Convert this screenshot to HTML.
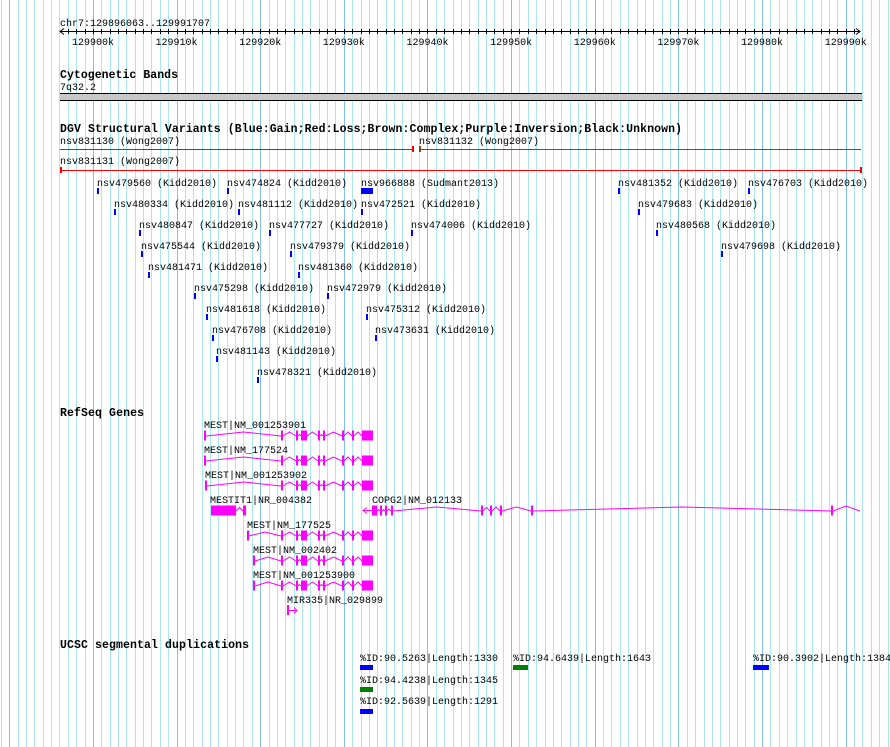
<!DOCTYPE html>
<html><head><meta charset="utf-8"><style>
html,body{margin:0;padding:0;background:#fff;}
svg{display:block;}
text{font-family:"Liberation Mono","DejaVu Sans Mono",monospace;font-size:10px;fill:#000;}
.b{font-weight:bold;font-size:11.5px;}
</style></head><body>
<svg id="s" width="890" height="747" xmlns="http://www.w3.org/2000/svg">
<g id="grid"></g>
<g id="draw"></g>
<!-- ruler -->
<text x="60" y="26">chr7:129896063..129991707</text>
<g text-anchor="middle">
<text x="93" y="45">129900k</text><text x="176.5" y="45">129910k</text><text x="260.2" y="45">129920k</text><text x="343.8" y="45">129930k</text><text x="427.5" y="45">129940k</text><text x="511.1" y="45">129950k</text><text x="594.8" y="45">129960k</text><text x="678.4" y="45">129970k</text><text x="762" y="45">129980k</text><text x="845.7" y="45">129990k</text>
</g>
<text class="b" x="60" y="78" textLength="118">Cytogenetic Bands</text>
<text x="60" y="90">7q32.2</text>
<rect x="60" y="93" width="802" height="1" fill="#000"/>
<rect x="60" y="94" width="802" height="6" fill="#c8c8c8"/>
<rect x="60" y="100" width="802" height="1" fill="#000"/>
<text class="b" x="60" y="132" textLength="622">DGV Structural Variants (Blue:Gain;Red:Loss;Brown:Complex;Purple:Inversion;Black:Unknown)</text>
<text x="60" y="144">nsv831130 (Wong2007)</text>
<text x="419" y="144">nsv831132 (Wong2007)</text>
<text x="60" y="164">nsv831131 (Wong2007)</text>
<rect x="60" y="149" width="354" height="1" fill="#f00"/><rect x="412" y="146" width="2" height="6" fill="#f00"/>
<rect x="419" y="149" width="442" height="1" fill="#8b4513"/><rect x="419" y="146" width="2" height="6" fill="#8b4513"/>
<rect x="60" y="170" width="802" height="1" fill="#f00"/><rect x="60" y="167" width="2" height="6" fill="#f00"/><rect x="860" y="167" width="2" height="6" fill="#f00"/>
<g id="kidd">
<text x="97" y="186">nsv479560 (Kidd2010)</text><text x="227" y="186">nsv474824 (Kidd2010)</text><text x="361" y="186">nsv966888 (Sudmant2013)</text><text x="618" y="186">nsv481352 (Kidd2010)</text><text x="748" y="186">nsv476703 (Kidd2010)</text>
<text x="114" y="207">nsv480334 (Kidd2010)</text><text x="238" y="207">nsv481112 (Kidd2010)</text><text x="361" y="207">nsv472521 (Kidd2010)</text><text x="638" y="207">nsv479683 (Kidd2010)</text>
<text x="139" y="228">nsv480847 (Kidd2010)</text><text x="269" y="228">nsv477727 (Kidd2010)</text><text x="411" y="228">nsv474006 (Kidd2010)</text><text x="656" y="228">nsv480568 (Kidd2010)</text>
<text x="141" y="249">nsv475544 (Kidd2010)</text><text x="290" y="249">nsv479379 (Kidd2010)</text><text x="721" y="249">nsv479698 (Kidd2010)</text>
<text x="148" y="270">nsv481471 (Kidd2010)</text><text x="298" y="270">nsv481360 (Kidd2010)</text>
<text x="194" y="291">nsv475298 (Kidd2010)</text><text x="327" y="291">nsv472979 (Kidd2010)</text>
<text x="206" y="312">nsv481618 (Kidd2010)</text><text x="366" y="312">nsv475312 (Kidd2010)</text>
<text x="212" y="333">nsv476708 (Kidd2010)</text><text x="375" y="333">nsv473631 (Kidd2010)</text>
<text x="216" y="354">nsv481143 (Kidd2010)</text>
<text x="257" y="375">nsv478321 (Kidd2010)</text>
</g>
<text class="b" x="60" y="416" textLength="84">RefSeq Genes</text>
<text x="204" y="428">MEST|NM_001253901</text>
<text x="204" y="453">MEST|NM_177524</text>
<text x="205" y="478">MEST|NM_001253902</text>
<text x="210" y="503">MESTIT1|NR_004382</text>
<text x="372" y="503">COPG2|NM_012133</text>
<text x="247" y="528">MEST|NM_177525</text>
<text x="253" y="553">MEST|NM_002402</text>
<text x="253" y="578">MEST|NM_001253900</text>
<text x="287" y="603">MIR335|NR_029899</text>
<text class="b" x="60" y="648" textLength="189">UCSC segmental duplications</text>
<text x="360" y="661">%ID:90.5263|Length:1330</text>
<text x="513" y="661">%ID:94.6439|Length:1643</text>
<text x="753" y="661">%ID:90.3902|Length:1384</text>
<text x="360" y="683">%ID:94.4238|Length:1345</text>
<text x="360" y="704">%ID:92.5639|Length:1291</text>
<rect x="360" y="665" width="13" height="5" fill="#00f"/>
<rect x="513" y="665" width="15" height="5" fill="#008000"/>
<rect x="753" y="665" width="16" height="5" fill="#00f"/>
<rect x="360" y="687" width="13" height="5" fill="#008000"/>
<rect x="360" y="709" width="13" height="5" fill="#00f"/>
</svg>
<script>
var NS="http://www.w3.org/2000/svg";
function el(p,t,a){var e=document.createElementNS(NS,t);for(var k in a)e.setAttribute(k,a[k]);p.appendChild(e);return e;}
var g=document.getElementById('grid'),d=document.getElementById('draw');
var step=8.3645,base=92.9;
for(var i=-11;i<=95;i++){var x=Math.round(base+i*step)+0.5;if(x<0||x>890)continue;
 var major=(i%10===0);
 el(g,'line',{x1:x,y1:0,x2:x,y2:747,stroke:major?'#80c0ea':'#aae8ee','stroke-width':1});}
// ruler
el(d,'line',{x1:60,y1:31.5,x2:860,y2:31.5,stroke:'#000'});
el(d,'polyline',{points:'64,28.5 60,31.5 64,34.5',fill:'none',stroke:'#000'});
el(d,'polyline',{points:'856,28.5 860,31.5 856,34.5',fill:'none',stroke:'#000'});
for(var i=-3;i<=92;i++){var x=Math.round(base+i*step)+0.5;if(x<62||x>858)continue;
 el(d,'line',{x1:x,y1:29,x2:x,y2:34,stroke:'#000'});}
// kidd marks
var ks=document.querySelectorAll('#kidd text');
ks.forEach(function(t){var x=+t.getAttribute('x'),y=+t.getAttribute('y');
 var w=t.textContent.indexOf('Sudmant')>0?12:2;
 el(d,'rect',{x:x,y:y+2,width:w,height:6,fill:'#00f'});});
// genes
var M='#ff00ff';
function gene(y,ex,startLine){
 for(var i=0;i<ex.length;i++){el(d,'rect',{x:ex[i][0],y:y-5,width:ex[i][1]-ex[i][0],height:10,fill:M});
  if(i<ex.length-1){var a=ex[i][1],b=ex[i+1][0],m=(a+b)/2,h=Math.min(4,(b-a)/2);
   el(d,'polyline',{points:a+','+(y+0.5)+' '+m+','+(y+0.5-h)+' '+b+','+(y+0.5),fill:'none',stroke:M,'stroke-width':1});}}
}
var tail=[[281,283],[296,298],[301,307],[318,320],[323,325],[342,344],[352,354],[362,373]];
gene(435.5,[[204,206]].concat(tail));
gene(460.5,[[204,206]].concat(tail));
gene(485.5,[[205,207]].concat(tail));
gene(510.5,[[211,236],[243,246]]);
gene(535.5,[[247,249]].concat(tail));
gene(560.5,[[253,255]].concat(tail));
gene(585.5,[[253,255]].concat(tail));
// COPG2
gene(510.5,[[372,377],[380,382],[385,387],[391,393],[481,483],[490,492],[500,502],[531,533],[831,833]]);
el(d,'polyline',{points:'833,511 846,506 860,511',fill:'none',stroke:M});
el(d,'line',{x1:363,y1:510.5,x2:372,y2:510.5,stroke:M});
el(d,'polyline',{points:'367,507.5 363,510.5 367,513.5',fill:'none',stroke:M});
// MIR335
el(d,'rect',{x:287,y:605,width:2,height:10,fill:M});
el(d,'line',{x1:289,y1:610.5,x2:297,y2:610.5,stroke:M});
el(d,'polyline',{points:'294,607.5 297,610.5 294,613.5',fill:'none',stroke:M});
</script>
</body></html>
